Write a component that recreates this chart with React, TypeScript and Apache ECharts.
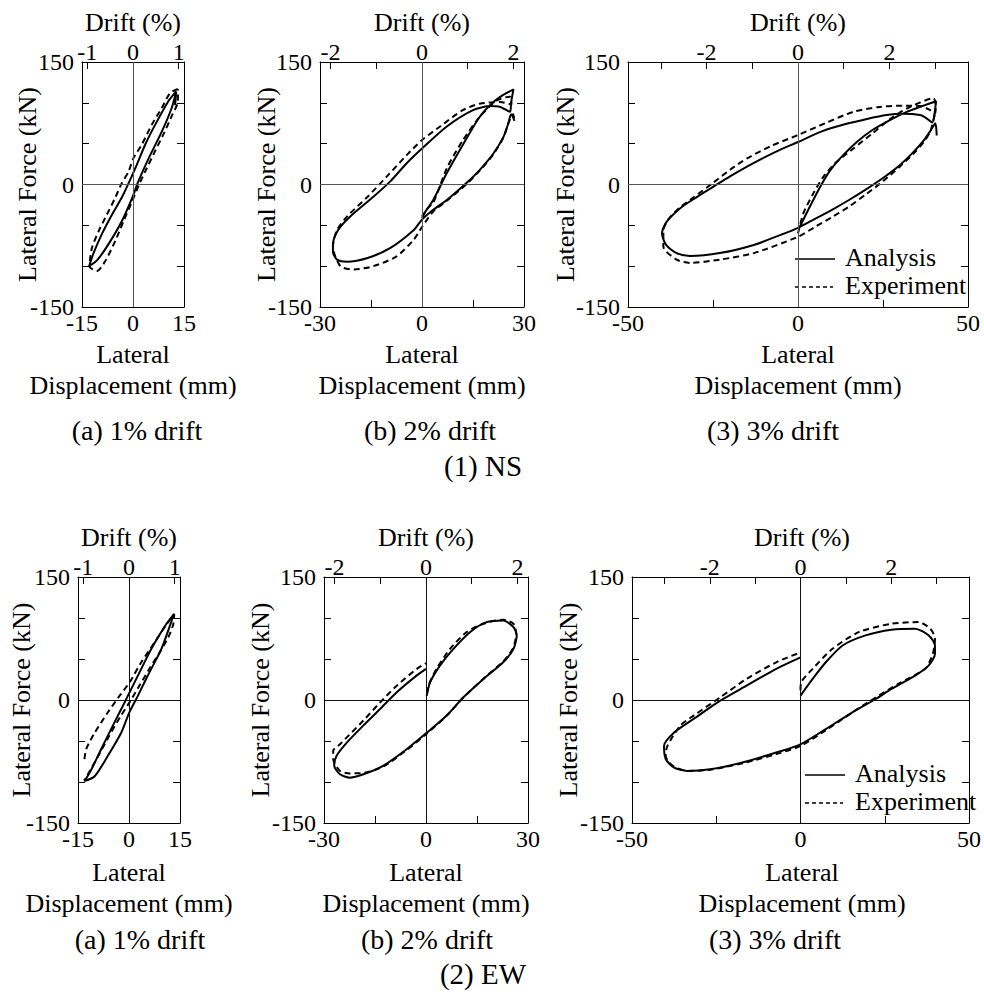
import React, { useEffect, useRef } from "react";
import * as echarts from "echarts";

const FONT = "Liberation Serif, Times New Roman, serif";
const MM_PER_DRIFT = 13.45;

// Axis definitions (per column a, b, c)
const dispRanges = [15, 30, 50];
const dispTickSteps = [15, 15, 25];
const forceTicks = [-150, -100, -50, 0, 50, 100, 150];
const forceLabels = [-150, 0, 150];
const driftTicks = [[-1, 0, 1], [-2, -1, 0, 1, 2], [-3, -2, -1, 0, 1, 2, 3]];
const driftLabels = [[-1, 0, 1], [-2, 0, 2], [-2, 0, 2]];
const subTitles = ["(a) 1% drift", "(b) 2% drift", "(3) 3% drift"];
const rowTitles = ["(1) NS", "(2) EW"];
const seriesNames = ["Analysis", "Experiment"];

// (1) NS — [displacement mm, force kN]
const ns1Analysis = [
  [12.7, 114], [10.4, 102], [6.5, 73], [3.6, 49], [1.1, 24], [-0.8, 6], [-3.3, -16], [-6.2, -37],
  [-9.2, -61], [-11.6, -84], [-12.9, -100], [-10.6, -93], [-7.2, -73], [-3.3, -45], [-0.3, -17],
  [1.6, 4], [4.6, 32], [8.5, 65], [11.4, 94], [12.7, 114], [12.4, 97],
];
const ns1Experiment = [
  [13.2, 117], [10.9, 112], [8.5, 94], [5.5, 73], [2.6, 49], [0.1, 32], [-1.3, 16], [-3.5, 0],
  [-5.2, -16], [-7.7, -37], [-10.1, -57], [-12.1, -78], [-12.8, -100], [-10.6, -106], [-8.2, -94],
  [-5.2, -69], [-2.8, -45], [-0.3, -21], [1.8, 0], [3.6, 16], [6.5, 41], [8.9, 61], [11.4, 84],
  [13.2, 102], [13.2, 117],
];
const ns2Analysis = [
  [0, -39], [3.3, -19], [7.3, 14], [12.2, 50], [17, 83], [21, 101], [24, 110], [26.9, 116.5],
  [26.2, 100], [25.9, 89], [23, 95], [20, 96], [15, 91], [7.3, 71], [0, 44], [-4.5, 26], [-9.4, 3.5],
  [-14.3, -15], [-20, -35], [-24, -52], [-26, -68], [-26.2, -82], [-25, -92], [-22, -94.5], [-16, -90],
  [-9.4, -78], [-2.5, -56], [0, -43], [3.3, -31], [7.3, -19], [13, 1.4], [17, 18], [21, 38], [24, 58.6],
  [25.4, 75], [26.2, 86], [27.2, 78],
];
const ns2Experiment = [
  [0, -41], [1.5, -30], [3.3, -22], [5, -5], [7.3, 20], [12, 54], [17, 83], [22, 103], [25.9, 107.6],
  [26.3, 98], [23, 101], [17, 99], [12, 91], [5.3, 71], [0, 54.5], [-4.5, 36], [-10.4, 9.6], [-16, -15],
  [-22, -39], [-25, -56], [-26.2, -76], [-24, -100], [-20, -104], [-14.3, -100], [-7.5, -88],
  [-2.5, -68], [0, -52], [3.3, -33], [7.3, -20], [13, 0], [17, 17], [21, 37], [24, 58], [25.4, 75],
  [26.8, 86], [27.2, 76],
];
const ns3Analysis = [
  [0.4, -53], [3.5, -27], [6.5, -3], [9.4, 17], [12.4, 32], [17.3, 52], [22, 67], [28, 81], [32, 89],
  [35.9, 95], [40.6, 102], [40.2, 88], [39.5, 76], [37.5, 82], [35.9, 85], [31, 86.5], [26, 85],
  [20, 80], [14, 74], [7, 65], [0, 52], [-5, 43], [-10, 33], [-15, 22], [-20, 10], [-25, -3],
  [-30, -16], [-34, -27], [-37, -38], [-39, -48], [-40, -60], [-38.8, -74], [-35.7, -84], [-31.8, -87.5],
  [-23, -84], [-13, -74], [-5.3, -62], [0, -53], [5, -42], [10, -31], [15, -19], [20, -6],
  [25, 8], [30, 24], [34, 40], [37, 54], [39.3, 68], [40.4, 75], [40.8, 60],
];
const ns3Experiment = [
  [0, -60], [1.6, -35], [4.5, -11], [7.5, 9.6], [11.4, 28], [16.3, 44], [22, 63], [28, 83], [33, 95],
  [39.8, 105.5], [40.5, 95], [40.3, 87], [38.5, 92], [35.9, 96], [31, 96.5], [24, 95], [16.3, 89],
  [8, 75], [0, 60.6], [-8, 47], [-15, 32], [-20, 18], [-25, 2], [-30.8, -16], [-35, -29], [-38, -42],
  [-39.6, -56], [-39.6, -76], [-35.7, -92], [-31.8, -96], [-23, -92], [-13, -84], [0, -64], [5, -52],
  [10, -40], [15, -27], [20, -12], [25, 4], [30, 22], [34, 38], [37, 52], [39, 66], [40.3, 87],
];

// (2) EW
const ew1Analysis = [
  [13.1, 104], [10.4, 89], [6.5, 62], [3.6, 38], [0.6, 13], [-1.3, -3], [-4.3, -27.6], [-8.2, -60],
  [-11.1, -85], [-13.1, -99], [-10.1, -93], [-6.2, -68], [-2.3, -40], [0.1, -15], [2.6, 5],
  [5.5, 29.6], [9.5, 62], [12.4, 95], [13.1, 104],
];
const ew1Experiment = [
  [-13.1, -72], [-12.6, -60], [-10.1, -40], [-6.2, -15], [-2.8, 5], [0.1, 21], [3.6, 46], [7.5, 70],
  [11, 92], [13.3, 105], [13, 92], [11.5, 76], [9, 58], [6, 38], [3, 17], [0.3, -2], [-2.5, -20],
  [-6, -45], [-9, -68], [-12, -90], [-13.2, -98],
];
const ew2Analysis = [
  [0.2, 5], [1.2, 21.6], [4.1, 42], [8, 62], [13, 83], [17.8, 95], [22.7, 97], [25.7, 89], [26.7, 79],
  [25.7, 62], [22.7, 46], [16.9, 25.7], [11, 3.3], [6.1, -19], [0.2, -40], [-5.7, -60], [-12.5, -80],
  [-18.4, -90.6], [-22.4, -94.7], [-25.3, -90.6], [-27, -80], [-26.3, -68], [-23.3, -52],
  [-18.4, -31], [-13.5, -11], [-8.6, 9.4], [-2.7, 30], [0, 38],
];
const ew2Experiment = [
  [0.3, 8], [0.7, 17.5], [3.1, 38], [7, 62], [12, 83], [16.9, 93], [22.7, 98], [25.7, 93], [26.5, 81],
  [25.7, 64], [22.7, 47], [16.9, 26], [11, 3], [6.1, -19], [0.2, -41], [-5.7, -61], [-12.5, -81],
  [-18.4, -89], [-22.4, -89.5], [-25.3, -86.5], [-27.3, -72], [-27.3, -62], [-25.3, -54],
  [-18.4, -25], [-13.5, -3], [-8.6, 17.5], [-2.7, 38], [0, 45],
];
const ew3Analysis = [
  [0, 5.3], [3.6, 25.7], [7.5, 46], [12.5, 66.5], [19.3, 78.8], [27, 85.7], [34, 87], [38, 79],
  [39.9, 66.5], [39.9, 56], [38, 42], [34, 29.8], [27, 13.5], [22.3, 1.2], [15.4, -15], [7.5, -35.5],
  [0, -54], [-7.2, -64], [-17, -76], [-26.8, -84.5], [-33.6, -86.5], [-37.5, -82.4], [-40, -72],
  [-40.5, -56], [-37.5, -39.6], [-31.7, -23], [-23.8, -0.8], [-16, 17.5], [-7.2, 38], [0, 52],
];
const ew3Experiment = [
  [0, 12], [0.2, 21.6], [3.6, 38], [9.5, 62.4], [17.4, 83], [27, 93], [35, 95], [38.5, 87],
  [39.9, 74.7], [39.5, 60], [38.9, 52], [37, 38], [29, 19.6], [22.3, 3], [15.4, -15], [7.5, -37],
  [0, -56], [-7.2, -66], [-17, -77], [-26.8, -85], [-33.6, -86.5], [-38, -80], [-40, -68],
  [-39.5, -56], [-35.6, -31], [-31.7, -19], [-23.8, 3.3], [-16, 25.7], [-7.2, 46], [0, 58],
];

const panelData = [
  [ns1Analysis, ns1Experiment],
  [ns2Analysis, ns2Experiment],
  [ns3Analysis, ns3Experiment],
  [ew1Analysis, ew1Experiment],
  [ew2Analysis, ew2Experiment],
  [ew3Analysis, ew3Experiment],
];

// Layout (pixels)
const rowTop = [62, 577];
const rowHeight = [245, 246];
const colLeft = [[82, 320, 628], [78, 324, 632]];
const colWidth = [102, 204, 340];
const driftNameY = [22, 537];
const latY = [354, 872];
const dispY = [385, 903];
const subY = [430, 939];
const subX = [[137, 430, 773], [140, 427, 775]];
const rowTitleY = [466, 974];
const rowTitleX = 483;
const yNameX = [[27, 266, 565], [21, 260, 568]];
const zeroLineColor = ["#555", "#111"];

const txt = (x: number, y: number, s: string, size: number, opts: any = {}) => ({
  type: "text",
  x,
  y,
  rotation: opts.rotation || 0,
  silent: true,
  style: {
    text: s,
    fill: "#000",
    fontSize: size,
    fontFamily: FONT,
    align: opts.align || "center",
    verticalAlign: "middle",
  },
});

function buildOption() {
  const grid: any[] = [];
  const xAxis: any[] = [];
  const yAxis: any[] = [];
  const series: any[] = [];
  const graphic: any[] = [];

  for (let p = 0; p < 6; p++) {
    const row = Math.floor(p / 3);
    const col = p % 3;
    const R = dispRanges[col];
    const step = dispTickSteps[col];
    const left = colLeft[row][col];
    const top = rowTop[row];
    const width = colWidth[col];
    const height = rowHeight[row];
    grid.push({ left, top, width, height, containLabel: false });

    const bottomTicks: number[] = [];
    for (let v = -R; v <= R + 1e-9; v += step) bottomTicks.push(v);

    const lineCommon = { show: true, onZero: false, lineStyle: { color: "#000", width: 1 } };
    const tickCommon = { show: true, inside: true, length: 7, lineStyle: { color: "#000", width: 1 } };
    const labelCommon = { color: "#000", fontFamily: FONT, fontSize: 24 };

    xAxis.push({
      type: "value",
      gridIndex: p,
      position: "bottom",
      min: -R,
      max: R,
      axisLine: lineCommon,
      axisTick: { ...tickCommon, customValues: bottomTicks },
      axisLabel: { ...labelCommon, margin: 4, customValues: [-R, 0, R] },
      splitLine: { show: false },
    });
    xAxis.push({
      type: "value",
      gridIndex: p,
      position: "top",
      min: -R,
      max: R,
      axisLine: lineCommon,
      axisTick: { ...tickCommon, customValues: driftTicks[col].map((d) => d * MM_PER_DRIFT) },
      axisLabel: {
        ...labelCommon,
        margin: -2,
        customValues: driftLabels[col].map((d) => d * MM_PER_DRIFT),
        formatter: (v: number) => String(Math.round(v / MM_PER_DRIFT) || 0),
      },
      splitLine: { show: false },
    });
    yAxis.push({
      type: "value",
      gridIndex: p,
      position: "left",
      min: -150,
      max: 150,
      axisLine: lineCommon,
      axisTick: { ...tickCommon, customValues: forceTicks },
      axisLabel: { ...labelCommon, margin: 8, customValues: forceLabels },
      splitLine: { show: false },
    });
    yAxis.push({
      type: "value",
      gridIndex: p,
      position: "right",
      min: -150,
      max: 150,
      axisLine: lineCommon,
      axisTick: { ...tickCommon, customValues: forceTicks },
      axisLabel: { show: false },
      splitLine: { show: false },
    });

    const [ana, exp] = panelData[p];
    series.push({
      name: seriesNames[0],
      type: "line",
      xAxisIndex: 2 * p,
      yAxisIndex: 2 * p,
      data: ana,
      showSymbol: false,
      smooth: 0.25,
      lineStyle: { color: "#000", width: 2 },
      z: 3,
      markLine: {
        silent: true,
        symbol: ["none", "none"],
        label: { show: false },
        lineStyle: { color: zeroLineColor[row], width: 1, type: "solid" },
        data: [{ xAxis: 0 }, { yAxis: 0 }],
      },
    });
    series.push({
      name: seriesNames[1],
      type: "line",
      xAxisIndex: 2 * p,
      yAxisIndex: 2 * p,
      data: exp,
      showSymbol: false,
      smooth: 0.25,
      lineStyle: { color: "#000", width: 2, type: [6, 4] },
      z: 2,
    });

    const cx = left + width / 2;
    const cy = top + height / 2;
    graphic.push(txt(cx, driftNameY[row], "Drift (%)", 26));
    graphic.push(txt(yNameX[row][col], cy, "Lateral Force (kN)", 26, { rotation: Math.PI / 2 }));
    graphic.push(txt(cx, latY[row], "Lateral", 26));
    graphic.push(txt(cx, dispY[row], "Displacement (mm)", 26));
    graphic.push(txt(subX[row][col], subY[row], subTitles[col], 28));

    if (col === 2) {
      const lx1 = left + (row === 0 ? 167 : 173);
      const lx2 = lx1 + 40;
      const y1 = top + height - 48;
      const y2 = top + height - 20;
      graphic.push({ type: "line", silent: true, shape: { x1: lx1, y1, x2: lx2, y2: y1 }, style: { stroke: "#000", lineWidth: 1.5 } });
      graphic.push({ type: "line", silent: true, shape: { x1: lx1, y1: y2, x2: lx2 - 2, y2 }, style: { stroke: "#000", lineWidth: 1.5, lineDash: [4, 3] } });
      graphic.push(txt(lx2 + 10, y1 - 2, seriesNames[0], 26, { align: "left" }));
      graphic.push(txt(lx2 + 10, y2 - 2, seriesNames[1], 26, { align: "left" }));
    }
  }
  graphic.push(txt(rowTitleX, rowTitleY[0], rowTitles[0], 29));
  graphic.push(txt(rowTitleX, rowTitleY[1], rowTitles[1], 29));

  return {
    animation: false,
    backgroundColor: "#fff",
    textStyle: { fontFamily: FONT },
    grid,
    xAxis,
    yAxis,
    series,
    graphic,
  };
}

export default function App() {
  const ref = useRef<HTMLDivElement>(null);
  useEffect(() => {
    if (!ref.current) return;
    const chart = echarts.init(ref.current, undefined, { renderer: "svg" });
    chart.setOption(buildOption() as any);
    return () => chart.dispose();
  }, []);
  return (
    <div
      ref={ref}
      style={{ position: "absolute", left: 0, top: 0, width: 984, height: 998, background: "#fff" }}
    />
  );
}
